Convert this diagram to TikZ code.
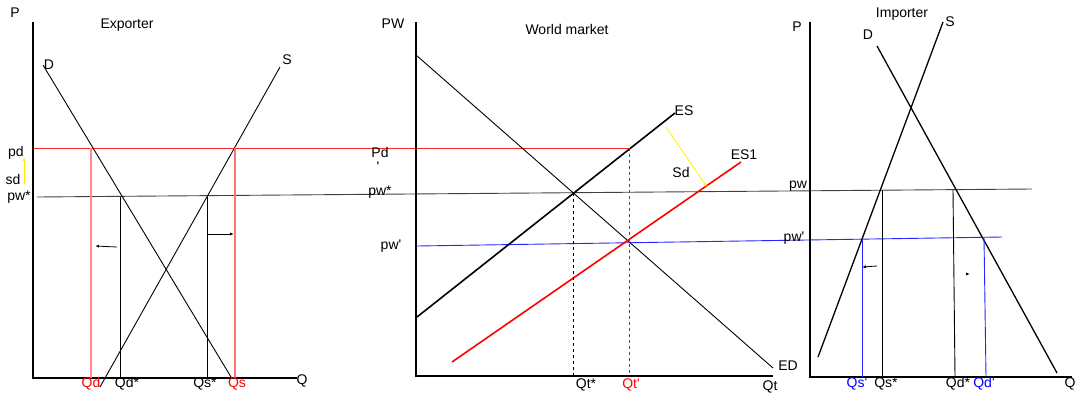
\documentclass[tikz,border=0pt]{standalone}
\usepackage{fontspec}
\setmainfont{Liberation Sans}
\usetikzlibrary{arrows.meta}

\newcommand{\prm}{\textquotesingle}

\tikzset{
  axis/.style={line width=2.4pt},
  curve/.style={line width=0.9pt},
  bold curve/.style={line width=1.6pt},
  guide/.style={line width=0.9pt},
  lbl/.style={inner sep=0pt},
  shift arrow/.style={-{Latex[length=4pt,width=3pt]}, line width=0.8pt},
}

\begin{document}
\begin{tikzpicture}[x=1pt, y=-1pt, font=\fontsize{14}{16}\selectfont]
  \useasboundingbox (0,0) rectangle (1076,400);

  % long price lines across the panels
  \draw[red!85, guide] (33,148) -- (629,148);
  \draw[black!75, guide] (37,197) -- (1032,189);
  \draw[blue!85, guide] (417,246) -- (1002,237);

  % exporter
  \draw[axis] (33,22) -- (33,378) -- (297,378);
  \node[lbl] (px) at (15,13) {P};
  \node[lbl] (qx) at (302,381) {Q};
  \node[lbl] (exp) at (127,25) {Exporter};
  \draw[curve] (43,65) -- (231,377);
  \draw[curve] (100,387) -- (280,67);
  \node[lbl] (dx) at (49,65) {D};
  \node[lbl] (sx) at (287,60) {S};
  \draw[red!45, line width=1.3pt] (91,148) -- (91,378);
  \draw[red!55, line width=1.3pt] (235,148) -- (235,378);
  \draw[guide] (120,197) -- (120,378);
  \draw[guide] (207,197) -- (207,378);
  \draw[shift arrow] (117,247) -- (95,246);
  \draw[shift arrow] (207,234) -- (234,234);
  \node[lbl] (pdx) at (16,153) {pd};
  \node[lbl] (sdx) at (13,179) {sd};
  \node[lbl] (pwx) at (19,197) {pw*};
  \draw[yellow, shift arrow] (24,184) -- (24,157);
  \foreach \x/\txt/\c [count=\i] in {91/Qd/red, 127/{Qd*}/black, 205/{Qs*}/black, 237/Qs/red}
    \node[lbl, text=\c] (lx\i) at (\x,384) {\txt};

  % world market
  \draw[axis] (416,22) -- (416,376) -- (773,376);
  \node[lbl] (pw) at (393,24) {PW};
  \node[lbl] (qt) at (770,387) {Qt};
  \node[lbl] (wm) at (567,29) {World market};
  \draw[curve] (416,55) -- (773,368);
  \draw[bold curve] (417,317) -- (675,113);
  \draw[red, bold curve] (452,362) -- (741,162);
  \draw[yellow, shift arrow] (666,127) -- (707,187);
  \draw[dashed, guide] (573,193) -- (573,376);
  \draw[red, dashed, guide] (629,148) -- (629,376);
  \node[lbl] (es) at (684,111) {ES};
  \node[lbl] (es1) at (744,155) {ES1};
  \node[lbl] (sd) at (681,172) {Sd};
  \node[lbl] (ed) at (788,366) {ED};
  \node[lbl] (pdw) at (380,152) {Pd};
  \node[lbl] (tk) at (378,167) {\prm};
  \node[lbl] (pww) at (380,192) {pw*};
  \node[lbl] (pw1w) at (391,246) {pw\prm};
  \node[lbl] (qts) at (586,385) {Qt*};
  \node[lbl, text=red] (qt1) at (631,385) {Qt\prm};

  % importer
  \draw[axis] (810,22) -- (810,377) -- (1072,377);
  \node[lbl] (pm) at (797,27) {P};
  \node[lbl] (qm) at (1070,384) {Q};
  \node[lbl] (imp) at (902,14) {Importer};
  \draw[line width=1.3pt] (877,46) -- (1057,373);
  \draw[line width=1.3pt] (818,357) -- (943,22);
  \node[lbl] (dm) at (868,35) {D};
  \node[lbl] (sm) at (950,22) {S};
  \draw[guide] (882,190) -- (882,377);
  \draw[guide] (953,190) -- (955,377);
  \draw[blue!85, guide] (862,239) -- (862,377);
  \draw[blue!85, guide] (984,237) -- (986,377);
  \draw[shift arrow] (877,266) -- (862,267);
  \draw[shift arrow] (966,274) -- (970,274);
  \node[lbl] (pwm) at (798,186) {pw};
  \node[lbl] (pw1m) at (794,238) {pw\prm};
  \foreach \x/\txt/\c [count=\i] in {857/{Qs\prm}/blue, 886/{Qs*}/black, 958/{Qd*}/black, 984/{Qd\prm}/blue}
    \node[lbl, text=\c] (lm\i) at (\x,384) {\txt};
\end{tikzpicture}
\end{document}
